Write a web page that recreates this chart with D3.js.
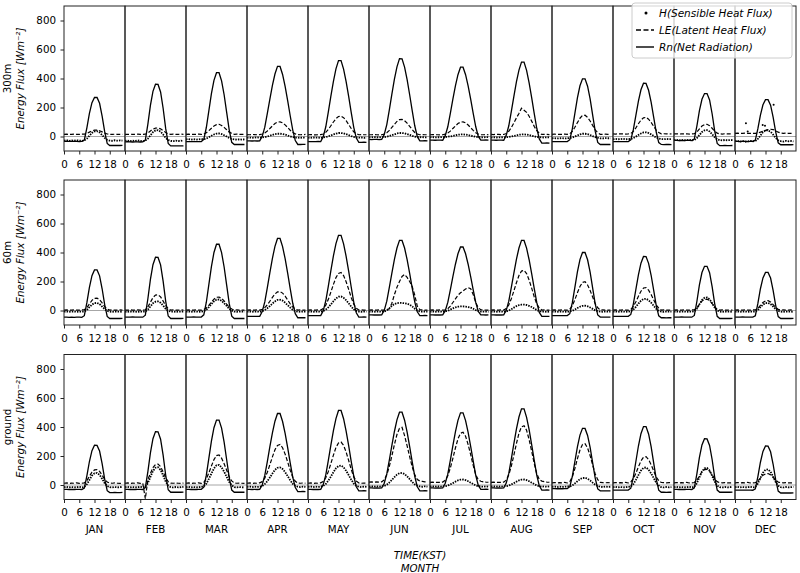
<!DOCTYPE html>
<html>
<head>
<meta charset="utf-8">
<script src="https://d3js.org/d3.v7.min.js"></script>
<style>
    body {
        margin: 0;
        background-color: #ffffff;
    }
    svg text {
        font-family: "DejaVu Sans", sans-serif;
        fill: #000;
    }
</style>
</head>
<body>
<svg id="chart" width="800" height="573"></svg>
<script>

    // ---- data (monthly mean diurnal cycle, W m-2, hourly KST) ----
    var months = ["JAN", "FEB", "MAR", "APR", "MAY", "JUN", "JUL", "AUG", "SEP", "OCT", "NOV", "DEC"];
    var hours = [0, 1, 2, 3, 4, 5, 6, 7, 8, 9, 10, 11, 12, 13, 14, 15, 16, 17, 18, 19, 20, 21, 22, 23];
    var hourTicks = [0, 6, 12, 18];
    var yTicks = [0, 200, 400, 600, 800];
    var rowNames = ["300m", "60m", "ground"];

    var rn300 = [
        [-33,-33,-34,-34,-33,-34,-35,-34,-24,60,159,233,270,269,229,141,33,-48,-62,-62,-61,-62,-62,-61],
        [-37,-36,-37,-38,-37,-37,-38,-37,-25,85,214,311,360,359,307,195,56,-48,-65,-65,-64,-65,-65,-64],
        [-35,-35,-36,-35,-36,-36,-35,-20,62,178,295,387,440,440,384,288,167,46,-40,-55,-55,-54,-55,-55],
        [-30,-30,-31,-30,-31,-30,1,64,159,258,353,431,484,483,428,346,247,143,44,-28,-55,-55,-54,-55],
        [-35,-35,-36,-35,-34,-35,-1,67,170,278,380,466,523,523,465,379,276,167,63,-11,-40,-40,-39,-40],
        [-20,-21,-20,-20,-21,-20,14,82,184,292,395,480,537,536,479,392,288,178,74,-1,-30,-30,-29,-30],
        [-25,-25,-26,-25,-25,-26,6,67,160,257,349,426,478,478,426,349,257,160,67,1,-25,-25,-24,-25],
        [-25,-25,-26,-25,-25,-26,8,74,173,277,376,458,513,513,456,370,268,160,57,-17,-45,-45,-44,-45],
        [-35,-35,-36,-35,-35,-36,-35,-22,53,159,266,350,398,398,347,259,148,37,-41,-55,-55,-54,-55,-55],
        [-35,-36,-35,-35,-36,-35,-35,-23,47,145,244,322,367,366,319,237,134,31,-42,-55,-56,-55,-55,-56],
        [-27,-27,-28,-27,-28,-27,-27,-28,-17,72,178,257,296,296,252,157,39,-48,-63,-63,-62,-63,-63,-62],
        [-34,-34,-35,-34,-34,-35,-34,-34,-25,54,148,219,254,254,216,133,32,-44,-57,-57,-56,-57,-57,-56]
    ];
    var le300 = [
        [15,16,14,15,17,15,14,16,16,21,30,39,44,44,40,32,23,17,15,14,16,15,15,14],
        [15,14,16,15,14,16,15,15,16,24,38,51,58,59,53,41,28,19,15,16,14,15,16,15],
        [15,16,14,15,15,16,14,17,26,40,57,72,82,84,76,63,47,30,21,15,16,15,14,15],
        [13,12,14,13,12,13,17,25,38,55,73,90,99,101,94,80,62,43,27,18,13,12,13,14],
        [12,13,12,11,12,13,17,29,49,74,100,123,138,140,130,109,83,55,32,19,12,13,12,12],
        [12,12,13,12,11,12,16,26,42,63,84,104,116,118,109,92,70,48,28,17,12,13,12,12],
        [12,13,12,12,11,12,16,24,37,55,73,89,99,101,94,79,61,42,26,17,12,12,13,12],
        [14,13,15,14,13,14,21,36,62,94,128,159,195,181,167,140,106,70,40,23,14,15,14,13],
        [15,16,15,14,15,16,15,19,35,64,96,126,145,147,132,107,76,45,26,15,15,16,15,14],
        [18,17,19,18,18,17,18,21,35,60,88,113,129,132,119,97,70,44,27,18,19,18,17,18],
        [18,19,17,18,18,19,17,18,19,31,52,72,82,84,75,57,37,23,18,17,19,18,18,17],
        [22,23,21,22,23,22,21,22,22,25,30,36,42,47,50,48,40,30,24,22,23,22,21,22]
    ];
    var h300 = [
        [-28,-25,-30,-27,-29,-26,-28,-30,-27,-15,5,25,35,37,28,10,-10,-23,-28,-30,-26,-29,-27,-28],
        [-30,-28,-32,-29,-31,-27,-30,-33,-28,-15,8,30,42,44,34,14,-9,-24,-30,-32,-28,-31,-29,-30],
        [-20,-18,-22,-19,-21,-20,-18,-19,-14,-5,5,14,20,21,17,9,0,-11,-17,-20,-22,-19,-21,-20],
        [-8,-7,-9,-8,-6,-8,-7,-4,0,5,11,16,19,19,17,13,7,1,-4,-7,-8,-9,-7,-8],
        [-8,-9,-7,-8,-8,-9,-7,-4,1,8,14,20,24,24,22,16,10,3,-3,-6,-8,-7,-9,-8],
        [-5,-6,-4,-5,-6,-5,-4,-1,3,9,15,21,24,24,22,17,11,5,-1,-3,-5,-4,-6,-5],
        [-5,-4,-6,-5,-5,-4,-4,-2,1,4,8,12,14,15,13,10,6,2,-2,-4,-5,-6,-4,-5],
        [-6,-5,-7,-6,-5,-6,-5,-3,0,4,8,12,14,15,13,10,5,1,-3,-5,-6,-7,-5,-6],
        [-12,-11,-13,-12,-11,-13,-12,-11,-7,0,7,14,19,19,16,10,2,-5,-9,-12,-13,-11,-12,-12],
        [-18,-17,-19,-18,-16,-19,-18,-17,-11,-1,11,21,28,29,24,15,4,-7,-14,-18,-19,-17,-18,-18],
        [-25,-23,-27,-24,-26,-25,-23,-26,-24,-11,10,31,42,44,35,16,-5,-19,-25,-27,-24,-26,-25,-24],
        [-32,-30,-35,-31,-36,-33,-30,-34,-31,-17,6,30,42,43,33,13,-10,-26,-32,-35,-30,-33,-31,-34]
    ];
    // stray H samples in DEC at 300m: [hour, value]
    var hDec300Dots = [[4.3, 92], [5.0, 35], [10.9, 80], [11.8, 74], [15.2, 219]];

    var rn60 = [
        [-46,-46,-47,-46,-47,-46,-46,-47,-36,54,160,240,280,280,239,150,41,-41,-55,-55,-54,-55,-55,-54],
        [-45,-45,-46,-45,-46,-45,-45,-46,-32,81,215,316,367,366,315,203,65,-38,-55,-55,-54,-55,-55,-54],
        [-45,-45,-46,-45,-46,-45,-45,-30,57,180,303,400,457,457,399,300,175,49,-39,-55,-55,-54,-55,-55],
        [-40,-40,-41,-40,-41,-40,-7,59,157,261,360,442,497,497,441,357,257,151,50,-22,-50,-50,-49,-50],
        [-35,-35,-36,-35,-36,-35,-1,67,168,275,377,461,518,518,460,374,271,162,58,-16,-45,-45,-44,-45],
        [-30,-30,-31,-30,-31,-30,1,64,159,258,353,431,484,483,431,351,256,155,60,-9,-35,-35,-34,-35],
        [-30,-30,-31,-30,-31,-30,-1,56,142,233,319,391,438,438,391,319,233,142,56,-6,-30,-30,-31,-30],
        [-30,-30,-31,-30,-31,-30,1,64,159,258,353,431,484,483,430,350,254,152,56,-13,-40,-40,-41,-40],
        [-35,-35,-36,-35,-36,-35,-35,-22,54,160,267,351,400,400,350,264,155,46,-31,-45,-45,-46,-45,-45],
        [-40,-40,-41,-40,-41,-40,-40,-27,44,145,246,326,373,372,325,243,140,36,-37,-50,-50,-51,-50,-50],
        [-45,-45,-46,-45,-46,-45,-45,-46,-34,62,176,262,305,305,261,165,48,-40,-55,-55,-54,-55,-55,-54],
        [-45,-45,-46,-45,-46,-45,-45,-46,-36,49,150,225,263,263,224,139,36,-42,-55,-55,-54,-55,-55,-54]
    ];
    var le60 = [
        [3,4,2,3,5,3,2,4,5,20,45,70,84,85,74,52,27,10,3,4,2,3,4,3],
        [3,2,4,3,2,4,3,3,5,24,57,89,106,108,94,65,33,12,3,4,2,3,4,3],
        [3,4,2,3,4,3,2,6,17,36,58,78,91,93,83,66,44,23,10,3,4,3,2,3],
        [3,4,2,3,4,3,8,20,39,64,90,114,128,130,120,99,73,46,23,10,3,4,3,2],
        [3,4,2,3,4,3,14,37,77,127,180,227,256,262,241,198,146,90,43,16,3,4,3,2],
        [3,4,2,3,4,3,4,6,12,50,110,160,200,235,248,228,200,165,105,30,6,4,3,3],
        [3,4,2,3,4,3,5,12,30,55,80,105,122,135,148,158,150,110,55,18,5,4,3,3],
        [3,4,2,3,4,3,14,39,81,135,191,241,272,277,255,210,154,95,45,17,3,4,3,2],
        [3,4,2,3,4,3,2,9,33,75,122,166,194,198,176,138,93,47,19,3,4,3,2,3],
        [3,4,2,3,4,3,2,8,27,60,98,133,155,158,140,110,74,38,16,3,4,3,2,3],
        [3,4,2,3,4,3,2,4,5,18,42,65,77,78,68,48,25,9,3,4,2,3,4,3],
        [3,4,2,3,4,3,2,4,4,16,36,56,66,68,59,41,21,8,3,4,2,3,4,3]
    ];
    var h60 = [
        [-8,-7,-9,-8,-7,-9,-8,-8,-7,4,23,41,51,52,44,27,9,-3,-8,-9,-7,-8,-8,-9],
        [-8,-9,-7,-8,-8,-9,-7,-8,-7,6,28,50,61,63,53,34,12,-2,-8,-7,-9,-8,-8,-7],
        [-8,-7,-9,-8,-7,-9,-8,-5,5,23,44,63,75,76,67,50,31,11,-1,-8,-9,-7,-8,-8],
        [-8,-7,-9,-8,-7,-9,-5,3,16,31,48,63,73,74,68,54,37,20,5,-4,-8,-9,-7,-8],
        [-8,-7,-9,-8,-7,-9,-4,6,22,42,64,83,95,97,88,71,50,27,8,-3,-8,-9,-7,-8],
        [-8,-7,-9,-8,-7,-9,-6,0,15,32,45,51,53,52,50,47,40,28,12,0,-6,-8,-7,-8],
        [-8,-7,-9,-8,-7,-9,-6,-2,6,15,22,26,28,28,27,24,20,12,3,-3,-7,-8,-8,-9],
        [-8,-7,-9,-8,-7,-9,-6,-1,9,20,30,37,40,41,38,32,24,14,3,-4,-8,-7,-9,-8],
        [-8,-7,-9,-8,-7,-9,-8,-7,-2,7,17,26,32,33,29,21,11,1,-5,-8,-9,-7,-8,-8],
        [-8,-7,-9,-8,-7,-9,-8,-5,6,25,47,67,79,81,71,54,33,12,-1,-8,-9,-7,-8,-8],
        [-8,-7,-9,-8,-7,-9,-8,-8,-6,12,42,72,88,90,77,50,20,0,-8,-9,-7,-8,-8,-9],
        [-8,-7,-9,-8,-7,-9,-8,-8,-7,4,23,41,51,52,44,27,9,-3,-8,-9,-7,-8,-8,-9]
    ];

    var rnGround = [
        [-30,-30,-31,-30,-31,-30,-30,-31,-21,63,162,237,274,273,234,147,41,-39,-52,-52,-51,-52,-52,-51],
        [-30,-30,-31,-30,-31,-30,-30,-31,-18,92,222,319,368,367,316,206,69,-33,-50,-50,-49,-50,-50,-49],
        [-30,-30,-31,-30,-31,-30,-30,-15,68,185,302,395,448,448,392,295,174,52,-35,-50,-50,-49,-50,-50],
        [-30,-30,-31,-30,-31,-30,2,66,162,264,360,440,493,493,438,356,257,153,54,-18,-45,-45,-44,-45],
        [-30,-30,-31,-30,-31,-30,3,70,170,275,375,458,514,514,457,372,271,163,62,-12,-40,-40,-39,-40],
        [-20,-20,-21,-20,-21,-20,12,76,172,273,369,449,502,502,447,364,264,159,60,-12,-40,-40,-39,-40],
        [-20,-20,-21,-20,-21,-20,12,75,170,271,366,446,498,498,444,363,266,164,67,-3,-30,-30,-29,-30],
        [-20,-20,-21,-20,-21,-20,13,80,180,286,386,469,525,525,467,382,279,171,68,-6,-35,-35,-34,-35],
        [-25,-25,-26,-25,-26,-25,-25,-12,60,162,263,344,391,390,342,259,153,48,-27,-40,-40,-41,-40,-40],
        [-35,-35,-36,-35,-36,-35,-35,-22,54,162,269,354,403,403,352,264,153,42,-36,-50,-50,-51,-50,-50],
        [-30,-30,-31,-30,-31,-30,-30,-31,-19,77,191,276,319,318,273,176,55,-35,-50,-50,-49,-50,-50,-49],
        [-35,-35,-36,-35,-36,-35,-35,-36,-26,58,157,232,269,268,229,143,37,-42,-55,-55,-54,-55,-55,-54]
    ];
    var leGround = [
        [12,14,11,13,12,15,11,12,14,31,60,89,104,106,94,68,39,20,13,12,14,12,11,13],
        [12,14,11,13,12,15,11,12,-95,39,80,120,142,144,127,90,50,23,13,12,14,12,11,13],
        [12,14,11,13,12,15,11,18,42,84,131,175,203,207,185,147,102,56,28,14,12,13,12,11],
        [12,14,11,13,12,15,23,47,88,140,194,243,273,279,257,213,159,102,53,26,13,12,14,12],
        [12,14,11,13,12,15,24,50,93,148,206,259,290,296,273,227,169,108,56,27,14,12,13,12],
        [20,22,19,21,20,22,35,70,128,201,279,348,391,398,340,270,195,125,70,38,28,25,22,21],
        [18,20,17,19,18,20,32,64,117,184,255,318,357,364,336,279,209,135,71,36,26,22,20,19],
        [18,20,17,19,18,20,34,70,130,206,285,357,401,409,377,313,233,150,78,38,27,23,20,19],
        [15,17,14,16,15,18,14,23,56,114,181,241,280,285,255,203,139,76,37,18,16,15,17,15],
        [15,17,14,16,15,18,14,21,43,81,125,166,192,195,175,140,98,55,30,17,16,15,17,15],
        [15,17,14,16,15,18,14,15,17,34,62,91,106,108,96,70,42,23,16,15,17,15,14,16],
        [15,17,14,16,15,18,14,15,16,28,47,67,77,79,70,53,33,20,16,15,17,15,14,16]
    ];
    var hGround = [
        [-15,-13,-17,-14,-16,-15,-13,-16,-13,5,35,65,81,83,70,43,13,-7,-15,-17,-14,-16,-15,-13],
        [-15,-13,-17,-14,-16,-15,-13,-16,-12,13,55,97,119,122,104,66,24,-4,-15,-17,-14,-16,-15,-13],
        [-15,-13,-17,-14,-16,-15,-13,-10,9,42,79,114,136,139,122,92,56,20,-2,-15,-17,-14,-16,-15],
        [-12,-10,-14,-11,-13,-12,-7,6,26,52,79,104,119,121,110,89,61,33,8,-5,-12,-14,-11,-13],
        [-12,-10,-14,-11,-13,-12,-6,7,30,58,88,115,131,134,122,98,68,37,10,-5,-12,-14,-11,-13],
        [-10,-8,-12,-9,-11,-10,-6,2,17,35,54,71,81,83,76,60,41,21,4,-5,-10,-12,-9,-11],
        [-10,-8,-12,-9,-11,-10,-8,-4,4,13,23,32,37,38,34,26,16,6,-3,-8,-10,-12,-9,-11],
        [-10,-9,-11,-10,-12,-9,-8,-4,4,13,23,32,37,38,34,26,16,6,-3,-8,-11,-10,-12,-9],
        [-12,-10,-14,-11,-13,-12,-10,-10,-3,11,26,40,48,50,43,31,16,2,-7,-12,-14,-11,-13,-12],
        [-15,-13,-17,-14,-16,-15,-13,-11,6,35,68,99,118,121,106,80,48,16,-4,-15,-17,-14,-16,-15],
        [-15,-13,-17,-14,-16,-15,-13,-16,-12,12,53,93,115,117,100,63,23,-4,-15,-17,-14,-16,-15,-13],
        [-15,-13,-17,-14,-16,-15,-13,-16,-13,10,48,85,105,108,91,58,20,-5,-15,-17,-14,-16,-15,-13]
    ];

    var legendItems = ["H(Sensible Heat Flux)", "LE(Latent Heat Flux)", "Rn(Net Radiation)"];

    // ---- layout ----
    var svg = d3.select("#chart");
    var rowTop = [6, 180, 354.5],
        rowH = 145;

    var xMonth = d3.scaleBand().domain(months).range([64, 796]);
    var xHour = d3.scaleLinear().domain([0, 24]).range([0, xMonth.bandwidth()]);

    var rows = [
        {rn: rn300, le: le300, h: h300},
        {rn: rn60, le: le60, h: h60},
        {rn: rnGround, le: leGround, h: hGround}
    ];

    svg.append("rect").attr("width", 800).attr("height", 573).attr("fill", "#fff");

    rows.forEach(function (row, r) {
        var top = rowTop[r];
        var y = d3.scaleLinear().domain([-100, 900]).range([top + rowH, top]);
        var line = d3.line()
            .x(function (d, k) { return xHour(hours[k]); })
            .y(function (d) { return y(d); });

        months.forEach(function (m, i) {
            var p = svg.append("g").attr("transform", "translate(" + xMonth(m) + ",0)");

            p.append("line")
                .attr("x1", 0).attr("x2", xMonth.bandwidth())
                .attr("y1", y(0)).attr("y2", y(0))
                .attr("stroke", "#a6a6a6").attr("stroke-width", 1);

            p.append("path").datum(row.h[i]).attr("d", line)
                .attr("fill", "none").attr("stroke", "#000")
                .attr("stroke-width", 1.8).attr("stroke-dasharray", "1.5,1.1");
            p.append("path").datum(row.le[i]).attr("d", line)
                .attr("fill", "none").attr("stroke", "#000")
                .attr("stroke-width", 1.2).attr("stroke-dasharray", "4,2");
            p.append("path").datum(row.rn[i]).attr("d", line)
                .attr("fill", "none").attr("stroke", "#000")
                .attr("stroke-width", 1.3);

            if (r === 0 && i === 11) {
                p.selectAll(".stray").data(hDec300Dots).enter().append("circle")
                    .attr("cx", function (d) { return xHour(d[0]); })
                    .attr("cy", function (d) { return y(d[1]); })
                    .attr("r", 1).attr("fill", "#000");
            }

            p.append("rect")
                .attr("x", 0).attr("y", top)
                .attr("width", xMonth.bandwidth()).attr("height", rowH)
                .attr("fill", "none").attr("stroke", "#222").attr("stroke-width", 1);

            var ax = p.append("g")
                .attr("transform", "translate(0," + (top + rowH) + ")")
                .call(d3.axisBottom(xHour).tickValues(hourTicks).tickSize(3.5).tickPadding(6));
            ax.select(".domain").remove();
            ax.selectAll("text").attr("font-size", 10.3).attr("font-family", "DejaVu Sans");
            ax.selectAll("line").attr("stroke", "#222");

            if (r === 2) {
                p.append("text")
                    .attr("x", xMonth.bandwidth() / 2).attr("y", 533)
                    .attr("text-anchor", "middle").attr("font-size", 10.3)
                    .text(m);
            }
        });

        var ay = svg.append("g")
            .attr("transform", "translate(64,0)")
            .call(d3.axisLeft(y).tickValues(yTicks).tickSize(3.5).tickPadding(4.5));
        ay.select(".domain").remove();
        ay.selectAll("text").attr("font-size", 10.3).attr("font-family", "DejaVu Sans");
        ay.selectAll("line").attr("stroke", "#222");

        var cy = top + rowH / 2;
        svg.append("text")
            .attr("transform", "translate(10.5," + cy + ") rotate(-90)")
            .attr("text-anchor", "middle").attr("font-size", 10.3)
            .text(rowNames[r]);
        svg.append("text")
            .attr("transform", "translate(24," + cy + ") rotate(-90)")
            .attr("text-anchor", "middle").attr("font-size", 10.3)
            .attr("font-style", "italic")
            .text("Energy Flux [Wm\u207B\u00B2]");
    });

    // x axis title
    svg.append("text").attr("x", 420).attr("y", 558.5)
        .attr("text-anchor", "middle").attr("font-size", 10.3).attr("font-style", "italic")
        .text("TIME(KST)");
    svg.append("text").attr("x", 420).attr("y", 571.5)
        .attr("text-anchor", "middle").attr("font-size", 10.3).attr("font-style", "italic")
        .text("MONTH");

    // legend
    var leg = svg.append("g").attr("transform", "translate(632,3)");
    leg.append("rect")
        .attr("width", 160).attr("height", 55).attr("rx", 3)
        .attr("fill", "#fff").attr("fill-opacity", 0.8)
        .attr("stroke", "#cccccc").attr("stroke-width", 1);
    legendItems.forEach(function (t, k) {
        var ly = 10 + k * 17;
        if (k === 0) {
            leg.append("circle").attr("cx", 14).attr("cy", ly).attr("r", 1.5).attr("fill", "#000");
        } else {
            leg.append("line").attr("x1", 4).attr("x2", 22).attr("y1", ly).attr("y2", ly)
                .attr("stroke", "#000").attr("stroke-width", 1.4)
                .attr("stroke-dasharray", k === 1 ? "5,2.5" : null);
        }
        leg.append("text").attr("x", 27).attr("y", ly + 3.8)
            .attr("font-size", 10.5).attr("font-style", "italic")
            .text(t);
    });
</script>
</body>
</html>
